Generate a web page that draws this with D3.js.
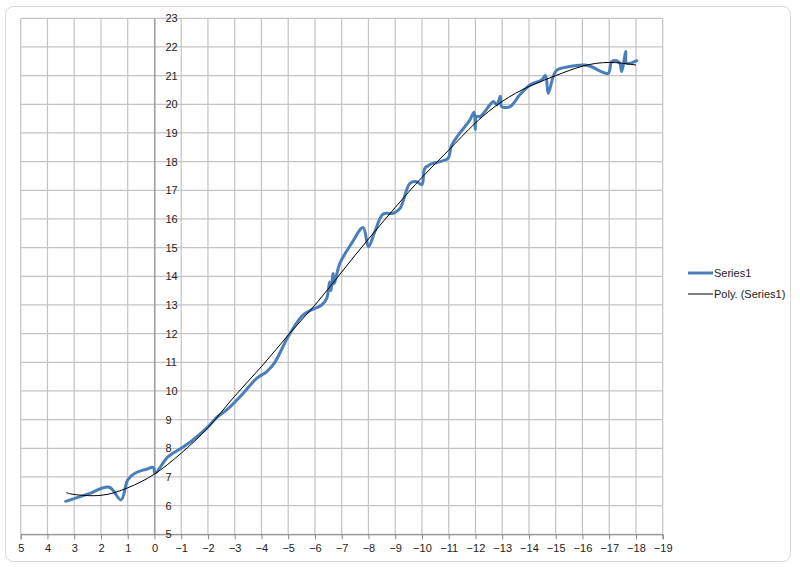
<!DOCTYPE html>
<html><head><meta charset="utf-8">
<script src="https://cdn.jsdelivr.net/npm/d3@7"></script>
<style>html,body{margin:0;padding:0;background:#fff;}svg{display:block;}</style>
</head><body>
<script>
// ---- data ----
const xTicks = d3.range(5, -20, -1);
const yTicks = d3.range(5, 24, 1);
const seriesX = [3.32,2.5,1.69,1.25,1.0,0.73,0.3,0.04,-0.02,-0.5,-1.0,-1.45,-2.0,-2.33,-2.7,-3.32,-3.82,-4.19,-4.5,-5.0,-5.5,-5.81,-6.25,-6.44,-6.55,-6.6,-6.68,-6.72,-6.93,-7.37,-7.8,-8.0,-8.24,-8.55,-8.93,-9.18,-9.55,-9.8,-10.0,-10.1,-10.3,-10.67,-10.98,-11.1,-11.42,-11.79,-11.95,-11.99,-12.04,-12.17,-12.54,-12.67,-12.8,-12.93,-12.98,-13.29,-13.66,-14.04,-14.47,-14.62,-14.72,-14.91,-15.05,-15.47,-16.09,-16.34,-16.96,-17.09,-17.28,-17.4,-17.47,-17.62,-17.65,-18.03];
const seriesY = [6.15,6.4,6.64,6.2,6.9,7.13,7.27,7.33,7.13,7.7,8.0,8.3,8.75,9.08,9.34,9.92,10.44,10.67,11.0,11.9,12.6,12.8,13.0,13.23,13.8,13.5,14.1,13.75,14.45,15.15,15.7,15.03,15.56,16.17,16.2,16.37,17.24,17.3,17.2,17.75,17.9,18.0,18.12,18.55,19.0,19.45,19.72,19.12,19.58,19.57,19.98,20.1,19.98,20.28,19.92,19.92,20.33,20.67,20.85,21.0,20.38,20.97,21.2,21.31,21.37,21.31,21.08,21.49,21.52,21.43,21.14,21.84,21.43,21.52];
const trendX = [3.3,3,2,1,0,-1,-2,-3,-4,-5,-6,-7,-8,-9,-10,-11,-12,-13,-14,-15,-16,-17,-18];
const trendY = [6.46,6.39,6.36,6.62,7.1,7.83,8.72,9.82,10.85,11.95,13.0,14.15,15.3,16.4,17.45,18.4,19.35,20.1,20.62,21.0,21.33,21.46,21.37];
const legendLabels = ["Series1", "Poly. (Series1)"];

const W = 800, H = 567;
const svg = d3.select("body").append("svg").attr("width", W).attr("height", H);
const font = "'Liberation Sans', Arial, sans-serif";

// chart area
svg.append("rect").attr("x", 5.5).attr("y", 6.5).attr("width", 785).attr("height", 555)
  .attr("rx", 8).attr("fill", "#fff").attr("stroke", "#d9d9d9").attr("stroke-width", 1);

const x = d3.scaleLinear().domain([5, -19]).range([20.7, 662.7]);
const y = d3.scaleLinear().domain([5, 23]).range([534.3, 18.3]);

// gridlines
const g = svg.append("g");
g.selectAll(".vg").data(xTicks).join("line")
  .attr("x1", d => x(d)).attr("x2", d => x(d)).attr("y1", y(23)).attr("y2", y(5))
  .attr("stroke", "#c3c3c3").attr("stroke-width", 1.2);
g.selectAll(".hg").data(yTicks).join("line")
  .attr("x1", x(5)).attr("x2", x(-19)).attr("y1", d => y(d)).attr("y2", d => y(d))
  .attr("stroke", "#c3c3c3").attr("stroke-width", 1.2);

// x axis (bottom)
const xAxis = d3.axisBottom(x).tickValues(xTicks).tickSize(5).tickFormat(d3.format("d"));
const xa = svg.append("g").attr("transform", `translate(0,${y(5)})`).call(xAxis);
xa.select(".domain").attr("stroke", "#868686");
xa.selectAll(".tick line").attr("stroke", "#868686");
xa.selectAll("text").attr("font-family", font).attr("font-size", 11).attr("fill", "#222").attr("dy", "0.9em");

// y axis at x=0, labels to the right
const yAxis = d3.axisRight(y).tickValues(yTicks).tickSize(0).tickPadding(11).tickFormat(d3.format("d"));
const ya = svg.append("g").attr("transform", `translate(${x(0)},0)`).call(yAxis);
ya.select(".domain").attr("stroke", "#868686");
ya.selectAll("text").attr("font-family", font).attr("font-size", 11).attr("fill", "#222");

// series
const seriesData = seriesX.map((v, i) => [v, seriesY[i]]);
const trendData = trendX.map((v, i) => [v, trendY[i]]);
svg.append("path").datum(seriesData)
  .attr("d", d3.line().x(d => x(d[0])).y(d => y(d[1])).curve(d3.curveCatmullRom.alpha(0.5)))
  .attr("fill", "none").attr("stroke", "#4a7ebb").attr("stroke-width", 3)
  .attr("stroke-linejoin", "round").attr("stroke-linecap", "round");
svg.append("path").datum(trendData)
  .attr("d", d3.line().x(d => x(d[0])).y(d => y(d[1])).curve(d3.curveNatural))
  .attr("fill", "none").attr("stroke", "#000").attr("stroke-width", 1);

// legend
const leg = svg.append("g");
const legY = [273, 294];
leg.append("line").attr("x1", 688).attr("x2", 713).attr("y1", legY[0]).attr("y2", legY[0])
  .attr("stroke", "#4a7ebb").attr("stroke-width", 3);
leg.append("line").attr("x1", 688).attr("x2", 713).attr("y1", legY[1]).attr("y2", legY[1])
  .attr("stroke", "#000").attr("stroke-width", 1);
leg.selectAll("text").data(legendLabels).join("text")
  .attr("x", 714).attr("y", (d, i) => legY[i]).attr("dy", "0.35em")
  .attr("font-family", font).attr("font-size", 11).attr("fill", "#222").text(d => d);
</script>
</body></html>
